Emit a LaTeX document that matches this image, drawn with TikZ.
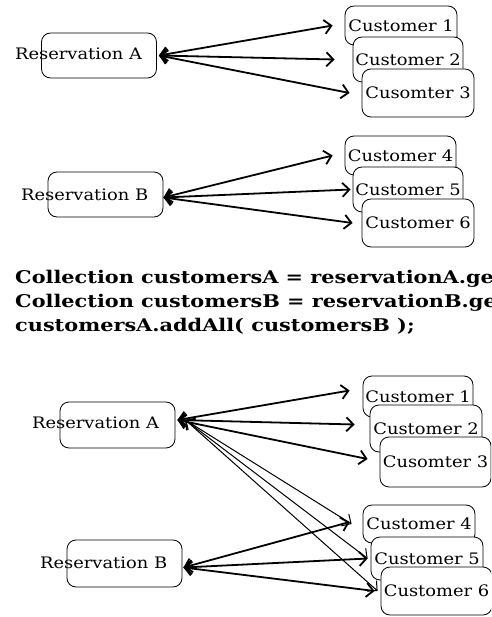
\documentclass[tikz,border=0pt]{standalone}
\usepackage{fontspec}
\setmainfont{DejaVu Serif}
\newfontfamily\labelfont[FakeStretch=1.13]{DejaVu Serif}
\newfontfamily\codefont[FakeStretch=1.19]{DejaVu Serif}
\usepackage{tikz}
\usetikzlibrary{
    arrows.meta,
    positioning,
}

\begin{document}
\begin{tikzpicture}[
        x=1pt, y=-1pt,
        resbox/.style={
            rectangle, rounded corners=9pt, draw=black, line width=0.8pt,
            minimum width=115pt, minimum height=#1, inner sep=0pt
        },
        resbox/.default=45pt,
        custbox/.style n args={2}{
            rectangle, rounded corners=9pt, draw=black, line width=0.8pt,
            fill=white, minimum width=#1, minimum height=#2,
            inner sep=0pt, font=\labelfont\fontsize{15.8}{17}\selectfont
        },
        reslabel/.style={anchor=west, inner sep=0pt, font=\labelfont\fontsize{15.8}{17}\selectfont},
        codeline/.style={anchor=base west, inner sep=0pt,
            font=\codefont\fontsize{17.5}{20}\selectfont\bfseries},
        link/.style={{Straight Barb[length=7pt,width=14pt]}-{Straight Barb[length=7pt,width=14pt]},
            line width=1.8pt},
        thinlink/.style={{Straight Barb[length=7pt,width=14pt]}-{Straight Barb[length=7pt,width=14pt]},
            line width=1pt},
    ]

    \clip (0,0) rectangle (491,617);
    \fill[white] (0,0) rectangle (491,617);

    % ── Reservation A / customers 1-3 ──
    \node[resbox] (resA) at (99,55.5) {};
    \node[reslabel] (resAtext) at (15,54) {Reservation A};
    \node[custbox={112pt}{39pt}] (custI) at (401,25.5) {Customer 1};
    \node[custbox={110pt}{45pt}] (custII) at (408,59.5) {Customer 2};
    \node[custbox={112pt}{48pt}] (custIII) at (418,93) {Cusomter 3};

    \draw[link] ([xshift=2pt]resA.east) -- ([xshift=-12pt]custI.west);
    \draw[link] ([xshift=2pt]resA.east) -- ([xshift=-18pt]custII.west);
    \draw[link] ([xshift=2pt]resA.east) -- ([xshift=-12pt]custIII.west);

    % ── Reservation B / customers 4-6 ──
    \node[resbox] (resB) at (105.5,194.5) {};
    \node[reslabel] (resBtext) at (21,195) {Reservation B};
    \node[custbox={111pt}{39pt}] (custIV) at (400.5,155.5) {Customer 4};
    \node[custbox={110pt}{45pt}] (custV) at (408,189.5) {Customer 5};
    \node[custbox={112pt}{48pt}] (custVI) at (418,223) {Customer 6};

    \draw[link] ([yshift=-3pt]resB.east) -- ([xshift=-12pt]custIV.west);
    \draw[link] ([yshift=-3pt]resB.east) -- ([xshift=-2pt]custV.west);
    \draw[link] ([yshift=-3pt]resB.east) -- ([xshift=-9pt]custVI.west);

    % ── Code ──
    \node[codeline] (codeA) at (15,283) {Collection customersA = reservationA.get};
    \node[codeline] (codeB) at (15,307) {Collection customersB = reservationB.get};
    \node[codeline] (codeC) at (15,331) {customersA.addAll( customersB );};

    % ── After addAll: Reservation A ──
    \node[resbox=46pt] (resAA) at (117.5,425) {};
    \node[reslabel] (resAAtext) at (32,423) {Reservation A};
    \node[custbox={110pt}{41pt}] (custAI) at (418,396.5) {Customer 1};
    \node[custbox={112pt}{47pt}] (custAII) at (426,428.5) {Customer 2};
    \node[custbox={111pt}{50pt}] (custAIII) at (435.5,462) {Cusomter 3};

    % ── After addAll: Reservation B ──
    \node[resbox=47pt] (resBB) at (124.5,563.5) {};
    \node[reslabel] (resBBtext) at (40,563) {Reservation B};
    \node[custbox={112pt}{38pt}] (custBIV) at (419,524) {Customer 4};
    \node[custbox={112pt}{43pt}] (custBV) at (427,558.5) {Customer 5};
    \node[custbox={111pt}{48pt}] (custBVI) at (436.5,591) {Customer 6};

    % ── Arrows ──
    \draw[link] ([shift={(2pt,5pt)}]resAA.east) -- ([shift={(-13pt,6pt)}]custAI.west);
    \draw[link] ([shift={(2pt,5pt)}]resAA.east) -- ([shift={(-15pt,4pt)}]custAII.west);
    \draw[link] ([shift={(2pt,5pt)}]resAA.east) -- ([shift={(-12pt,3pt)}]custAIII.west);
    \draw[thinlink] ([shift={(10pt,5pt)}]resAA.east) -- ([xshift=-11pt]custBIV.west);
    \draw[thinlink] ([shift={(10pt,5pt)}]resAA.east) -- ([xshift=-3pt]custBV.west);
    \draw[thinlink] ([shift={(10pt,5pt)}]resAA.east) -- ([xshift=-3pt]custBVI.west);

    \draw[link] ([shift={(1pt,-4pt)}]resBB.east) -- ([shift={(-13pt,2pt)}]custBIV.west);
    \draw[link] ([shift={(1pt,-4pt)}]resBB.east) -- ([xshift=-3pt]custBV.west);
    \draw[link] ([shift={(1pt,-4pt)}]resBB.east) -- ([xshift=-6pt]custBVI.west);

    \end{tikzpicture}
\end{document}
